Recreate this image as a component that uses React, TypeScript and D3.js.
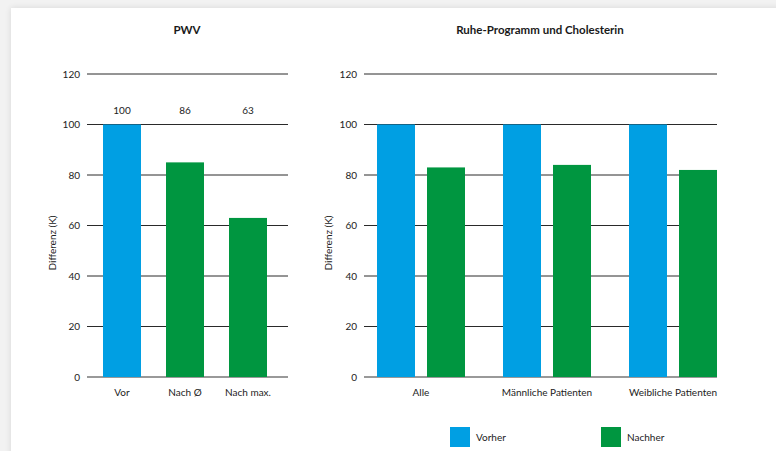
import { useEffect, useRef } from "react";
import * as d3 from "d3";

const yTicks = [0, 20, 40, 60, 80, 100, 120];
const seriesNames = ["Vorher", "Nachher"];
const seriesColors = ["#009fe3", "#009640"];

const pwvCategories = ["Vor", "Nach Ø", "Nach max."];
const pwvValues = [100, 85, 63];
const pwvValueLabels = ["100", "86", "63"];
const pwvSeries = [0, 1, 1];

const cholCategories = ["Alle", "Männliche Patienten", "Weibliche Patienten"];
const cholVorher = [100, 100, 100];
const cholNachher = [83, 84, 82];

const W = 776;
const H = 451;
const FONT = "Lato, 'Open Sans', sans-serif";

export default function App() {
  const svgRef = useRef<SVGSVGElement>(null);

  useEffect(() => {
    document.body.style.margin = "0";
    if (!svgRef.current) return;
    const svg = d3.select(svgRef.current);
    svg.selectAll("*").remove();

    // page background + card with soft shadow
    svg.append("rect").attr("width", W).attr("height", H).attr("fill", "#f2f2f2");
    const defs = svg.append("defs");
    const f = defs
      .append("filter")
      .attr("id", "shadow")
      .attr("x", "-5%")
      .attr("y", "-5%")
      .attr("width", "110%")
      .attr("height", "110%");
    f.append("feGaussianBlur").attr("in", "SourceAlpha").attr("stdDeviation", 3);
    f.append("feComponentTransfer")
      .append("feFuncA")
      .attr("type", "linear")
      .attr("slope", 0.12);
    const m = f.append("feMerge");
    m.append("feMergeNode");
    m.append("feMergeNode").attr("in", "SourceGraphic");
    svg
      .append("rect")
      .attr("x", 11)
      .attr("y", 8)
      .attr("width", W)
      .attr("height", H)
      .attr("fill", "#fff")
      .attr("filter", "url(#shadow)");

    const y = d3.scaleLinear().domain([0, 120]).range([377, 74]);

    const drawFrame = (
      x0: number,
      x1: number,
      title: string,
      titleX: number,
      labelX: number,
    ) => {
      const g = svg.append("g");
      g.append("text")
        .attr("x", titleX)
        .attr("y", 34)
        .attr("text-anchor", "middle")
        .attr("font-family", FONT)
        .attr("font-weight", "bold")
        .attr("font-size", "11.5px")
        .attr("fill", "#1a1a1a")
        .text(title);

      g.selectAll("line.grid")
        .data(yTicks)
        .join("line")
        .attr("x1", x0)
        .attr("x2", x1)
        .attr("y1", (d) => y(d))
        .attr("y2", (d) => y(d))
        .attr("stroke", (d) => (d === 0 ? "#777" : "#2a2a2a"))
        .attr("stroke-width", (d) => (d === 0 ? 1.5 : 1));

      g.selectAll("text.tick")
        .data(yTicks)
        .join("text")
        .attr("x", x0 - 7)
        .attr("y", (d) => y(d))
        .attr("dy", "0.35em")
        .attr("text-anchor", "end")
        .attr("font-family", FONT)
        .attr("font-size", "10px")
        .attr("fill", "#222")
        .text((d) => d);

      g.append("text")
        .attr("transform", `translate(${labelX},243) rotate(-90)`)
        .attr("text-anchor", "middle")
        .attr("dy", "0.35em")
        .attr("font-family", FONT)
        .attr("font-size", "10px")
        .attr("fill", "#222")
        .text("Differenz (K)");
      return g;
    };

    // left panel: PWV
    const left = drawFrame(87, 288, "PWV", 187, 52);
    const xl = d3
      .scaleBand<string>()
      .domain(pwvCategories)
      .range([84.1, 285.9])
      .paddingInner(0.397)
      .paddingOuter(0.3);
    const bars = left.append("g");
    bars
      .selectAll("rect")
      .data(pwvCategories)
      .join("rect")
      .attr("x", (d) => xl(d)!)
      .attr("width", xl.bandwidth())
      .attr("y", (_, i) => y(pwvValues[i]))
      .attr("height", (_, i) => y(0) - y(pwvValues[i]))
      .attr("fill", (_, i) => seriesColors[pwvSeries[i]]);
    left
      .selectAll("text.val")
      .data(pwvCategories)
      .join("text")
      .attr("x", (d) => xl(d)! + xl.bandwidth() / 2)
      .attr("y", 110)
      .attr("dy", "0.35em")
      .attr("text-anchor", "middle")
      .attr("font-family", FONT)
      .attr("font-size", "10px")
      .attr("fill", "#222")
      .text((_, i) => pwvValueLabels[i]);
    left
      .selectAll("text.cat")
      .data(pwvCategories)
      .join("text")
      .attr("x", (d) => xl(d)! + xl.bandwidth() / 2)
      .attr("y", 392)
      .attr("dy", "0.35em")
      .attr("text-anchor", "middle")
      .attr("font-family", FONT)
      .attr("font-size", "10px")
      .attr("fill", "#222")
      .text((d) => d);

    // right panel: grouped bars
    const right = drawFrame(364, 717, "Ruhe-Programm und Cholesterin", 540, 328);
    const x0 = d3
      .scaleBand<string>()
      .domain(cholCategories)
      .range([377, 717])
      .paddingInner(0.3016)
      .paddingOuter(0);
    const x1 = d3
      .scaleBand<string>()
      .domain(seriesNames)
      .range([0, x0.bandwidth()])
      .paddingInner(0.24);
    const rows = cholCategories.map((c, i) => ({
      cat: c,
      vals: [cholVorher[i], cholNachher[i]],
    }));
    right
      .append("g")
      .selectAll("g")
      .data(rows)
      .join("g")
      .attr("transform", (d) => `translate(${x0(d.cat)},0)`)
      .selectAll("rect")
      .data((d) => d.vals.map((v, j) => ({ v, s: seriesNames[j], j })))
      .join("rect")
      .attr("x", (d) => x1(d.s)!)
      .attr("width", x1.bandwidth())
      .attr("y", (d) => y(d.v))
      .attr("height", (d) => y(0) - y(d.v))
      .attr("fill", (d) => seriesColors[d.j]);
    right
      .selectAll("text.cat")
      .data(cholCategories)
      .join("text")
      .attr("x", (d) => x0(d)! + x0.bandwidth() / 2)
      .attr("y", 392)
      .attr("dy", "0.35em")
      .attr("text-anchor", "middle")
      .attr("font-family", FONT)
      .attr("font-size", "10px")
      .attr("fill", "#222")
      .text((d) => d);

    // legend
    const legendX = d3.scalePoint<string>().domain(seriesNames).range([450, 601]);
    const lg = svg
      .append("g")
      .selectAll("g")
      .data(seriesNames)
      .join("g")
      .attr("transform", (d) => `translate(${legendX(d)},427)`);
    lg.append("rect")
      .attr("width", 20)
      .attr("height", 20)
      .attr("fill", (_, i) => seriesColors[i]);
    lg.append("text")
      .attr("x", 26)
      .attr("y", 10)
      .attr("dy", "0.35em")
      .attr("font-family", FONT)
      .attr("font-size", "10px")
      .attr("fill", "#222")
      .text((d) => d);
  }, []);

  return <svg ref={svgRef} width={W} height={H} style={{ display: "block" }} />;
}
